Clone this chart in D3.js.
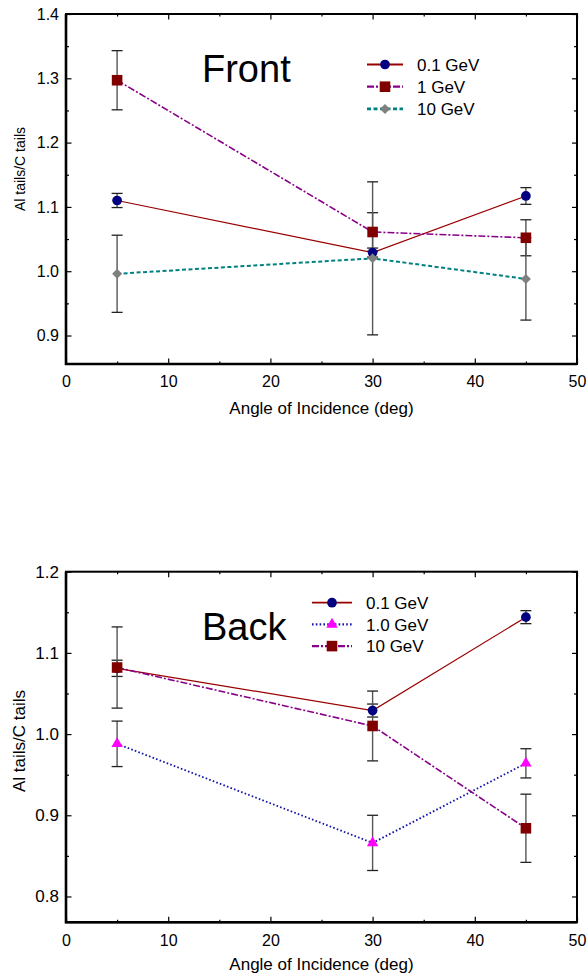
<!DOCTYPE html>
<html>
<head>
<meta charset="utf-8">
<script src="https://cdn.jsdelivr.net/npm/d3@7"></script>
<style>
  body { margin: 0; background: #fff; }
  svg { display: block; font-family: Arial, "Liberation Sans", sans-serif; }
</style>
</head>
<body>
<div id="content"></div>
<script>
// shared x values
const angles = [5, 30, 45];
const xTicks = [0, 10, 20, 30, 40, 50];

// Front panel
const frontNames = ["0.1 GeV", "1 GeV", "10 GeV"];
const front01 = [1.110, 1.029, 1.117];
const front01Err = [0.011, 0.007, 0.013];
const front1 = [1.297, 1.061, 1.052];
const front1Err = [0.046, 0.030, 0.028];
const front10 = [0.996, 1.020, 0.988];
const front10Err = [0.060, 0.119, 0.064];
const frontYTicks = [0.9, 1.0, 1.1, 1.2, 1.3, 1.4];

// Back panel
const backNames = ["0.1 GeV", "1.0 GeV", "10 GeV"];
const back01 = [1.081, 1.029, 1.144];
const back01Err = [0.010, 0.008, 0.008];
const back1 = [0.988, 0.866, 0.964];
const back1Err = [0.028, 0.034, 0.018];
const back10 = [1.082, 1.010, 0.884];
const back10Err = [0.050, 0.043, 0.042];
const backYTicks = [0.8, 0.9, 1.0, 1.1, 1.2];

const W = 587, H = 974;
const svg = d3.select("#content").append("svg").attr("width", W).attr("height", H);

// line / marker looks
const solidRed = { color: "#990000", width: 1.2, dash: null };
const dashDot = { color: "#880088", width: 1.6, dash: "7,2,2,2" };
const tealDash = { color: "#008080", width: 2, dash: "4,2.5" };
const blueDot = { color: "#1414a8", width: 1.8, dash: "1.6,2.2" };
const circ = { shape: d3.symbolCircle, size: 74, fill: "#000080", rot: 0 };
const sq = { shape: d3.symbolSquare, size: 112, fill: "#800000", rot: 0 };
const diam = { shape: d3.symbolSquare, size: 50, fill: "#808080", rot: 45 };
const tri = { shape: d3.symbolTriangle, size: 56, fill: "#ff00ff", rot: 0 };

function drawPanel(p) {
  const g = svg.append("g");
  const x = d3.scaleLinear().domain([0, 50]).range([p.left, p.right]);
  const y = d3.scaleLinear().domain(p.yDomain).range([p.bottom, p.top]);

  // minor ticks
  const minorX = d3.range(5, 50, 10);
  const minorY = d3.range(Math.ceil(p.yDomain[0] * 20) / 20, p.yDomain[1], 0.05)
    .filter(v => Math.abs(Math.round(v * 10) - v * 10) > 0.01);

  g.append("g").attr("transform", `translate(0,${p.bottom})`)
    .call(d3.axisBottom(x).tickValues(minorX).tickSize(-2.5).tickFormat(""))
    .call(a => a.select(".domain").remove());
  g.append("g").attr("transform", `translate(0,${p.top})`)
    .call(d3.axisTop(x).tickValues(minorX).tickSize(-2.5).tickFormat(""))
    .call(a => a.select(".domain").remove());
  g.append("g").attr("transform", `translate(${p.left},0)`)
    .call(d3.axisLeft(y).tickValues(minorY).tickSize(-3).tickFormat(""))
    .call(a => a.select(".domain").remove());
  g.append("g").attr("transform", `translate(${p.right},0)`)
    .call(d3.axisRight(y).tickValues(minorY).tickSize(-3).tickFormat(""))
    .call(a => a.select(".domain").remove());

  // major ticks
  const xb = g.append("g").attr("transform", `translate(0,${p.bottom})`)
    .call(d3.axisBottom(x).tickValues(xTicks).tickSize(-5.5).tickPadding(12).tickFormat(d3.format("d")));
  xb.select(".domain").remove();
  xb.selectAll("text").attr("font-size", 16).attr("fill", "#000");
  g.append("g").attr("transform", `translate(0,${p.top})`)
    .call(d3.axisTop(x).tickValues(xTicks).tickSize(-5.5).tickFormat(""))
    .call(a => a.select(".domain").remove());
  const yl = g.append("g").attr("transform", `translate(${p.left},0)`)
    .call(d3.axisLeft(y).tickValues(p.yTicks).tickSize(-5.5).tickPadding(7).tickFormat(d3.format(".1f")));
  yl.select(".domain").remove();
  yl.selectAll("text").attr("font-size", p.tickFont).attr("fill", "#000");
  g.append("g").attr("transform", `translate(${p.right},0)`)
    .call(d3.axisRight(y).tickValues(p.yTicks).tickSize(-5).tickFormat(""))
    .call(a => a.select(".domain").remove());
  g.selectAll(".tick line").attr("stroke", "#000").attr("stroke-width", 1.2);
  g.selectAll(".domain").remove();

  // frame
  g.append("rect").attr("x", p.left).attr("y", p.top)
    .attr("width", p.right - p.left).attr("height", p.bottom - p.top)
    .attr("fill", "none").attr("stroke", "#000").attr("stroke-width", 2);
  g.append("path").attr("d", `M${p.left},${p.top}V${p.bottom}H${p.right}`)
    .attr("fill", "none").attr("stroke", "#000").attr("stroke-width", 2.6);

  // axis titles
  g.append("text").attr("x", (p.left + p.right) / 2 - 0).attr("y", p.bottom + p.xLabelDy)
    .attr("text-anchor", "middle").attr("font-size", 17).text("Angle of Incidence (deg)");
  g.append("text").attr("transform", `translate(25,${p.yLabelMid}) rotate(-90)`)
    .attr("text-anchor", "middle").attr("font-size", p.yLabelFont).text("Al tails/C tails");

  // panel title
  g.append("text").attr("x", 202).attr("y", p.titleY).attr("font-size", 38).text(p.title);

  const line = d3.line().x(d => x(d[0])).y(d => y(d[1]));

  // series lines
  p.series.forEach(s => {
    const pts = angles.map((a, i) => [a, s.values[i]]);
    g.append("path").datum(pts).attr("d", line).attr("fill", "none")
      .attr("stroke", s.line.color).attr("stroke-width", s.line.width)
      .attr("stroke-dasharray", s.line.dash);
  });

  // error bars
  p.series.forEach(s => {
    angles.forEach((a, i) => {
      const cx = x(a), y0 = y(s.values[i] - s.err[i]), y1 = y(s.values[i] + s.err[i]);
      g.append("line").attr("x1", cx).attr("x2", cx).attr("y1", y0).attr("y2", y1)
        .attr("stroke", "#555").attr("stroke-width", 1.4);
      [y0, y1].forEach(yy => g.append("line").attr("x1", cx - 5.5).attr("x2", cx + 5.5)
        .attr("y1", yy).attr("y2", yy).attr("stroke", "#222").attr("stroke-width", 1.3));
    });
  });

  // markers
  p.series.forEach(s => {
    const sym = d3.symbol().type(s.mark.shape).size(s.mark.size);
    g.selectAll(null).data(angles.map((a, i) => [a, s.values[i]])).enter().append("path")
      .attr("d", sym)
      .attr("transform", d => `translate(${x(d[0])},${y(d[1])}) rotate(${s.mark.rot})`)
      .attr("fill", s.mark.fill);
  });

  // legend
  p.series.forEach((s, i) => {
    const ly = p.legend.y + i * p.legend.step;
    g.append("line").attr("x1", p.legend.x).attr("x2", p.legend.x + p.legend.len)
      .attr("y1", ly).attr("y2", ly)
      .attr("stroke", s.line.color).attr("stroke-width", s.line.width + 0.6)
      .attr("stroke-dasharray", s.line.dash);
    g.append("path").attr("d", d3.symbol().type(s.mark.shape).size(s.mark.size)())
      .attr("transform", `translate(${p.legend.x + p.legend.len / 2},${ly}) rotate(${s.mark.rot})`)
      .attr("fill", s.mark.fill);
    g.append("text").attr("x", p.legend.x + p.legend.len + 14).attr("y", ly)
      .attr("dy", "0.36em").attr("font-size", 17).text(p.names[i]);
  });
}

drawPanel({
  title: "Front", titleY: 82,
  left: 66, right: 577, top: 14, bottom: 364,
  yDomain: [0.8557, 1.4], yTicks: frontYTicks, tickFont: 16,
  xLabelDy: 50, yLabelMid: 169, yLabelFont: 14,
  names: frontNames,
  legend: { x: 367, len: 36, y: 64.5, step: 22.2 },
  series: [
    { values: front01, err: front01Err, line: solidRed, mark: circ },
    { values: front1, err: front1Err, line: dashDot, mark: sq },
    { values: front10, err: front10Err, line: tealDash, mark: diam }
  ]
});

drawPanel({
  title: "Back", titleY: 640,
  left: 66, right: 577, top: 571.7, bottom: 922.3,
  yDomain: [0.7682, 1.2], yTicks: backYTicks, tickFont: 17,
  xLabelDy: 48, yLabelMid: 741, yLabelFont: 17,
  names: backNames,
  legend: { x: 312, len: 40, y: 602.7, step: 21.7 },
  series: [
    { values: back01, err: back01Err, line: solidRed, mark: circ },
    { values: back1, err: back1Err, line: blueDot, mark: tri },
    { values: back10, err: back10Err, line: dashDot, mark: sq }
  ]
});
</script>
</body>
</html>
